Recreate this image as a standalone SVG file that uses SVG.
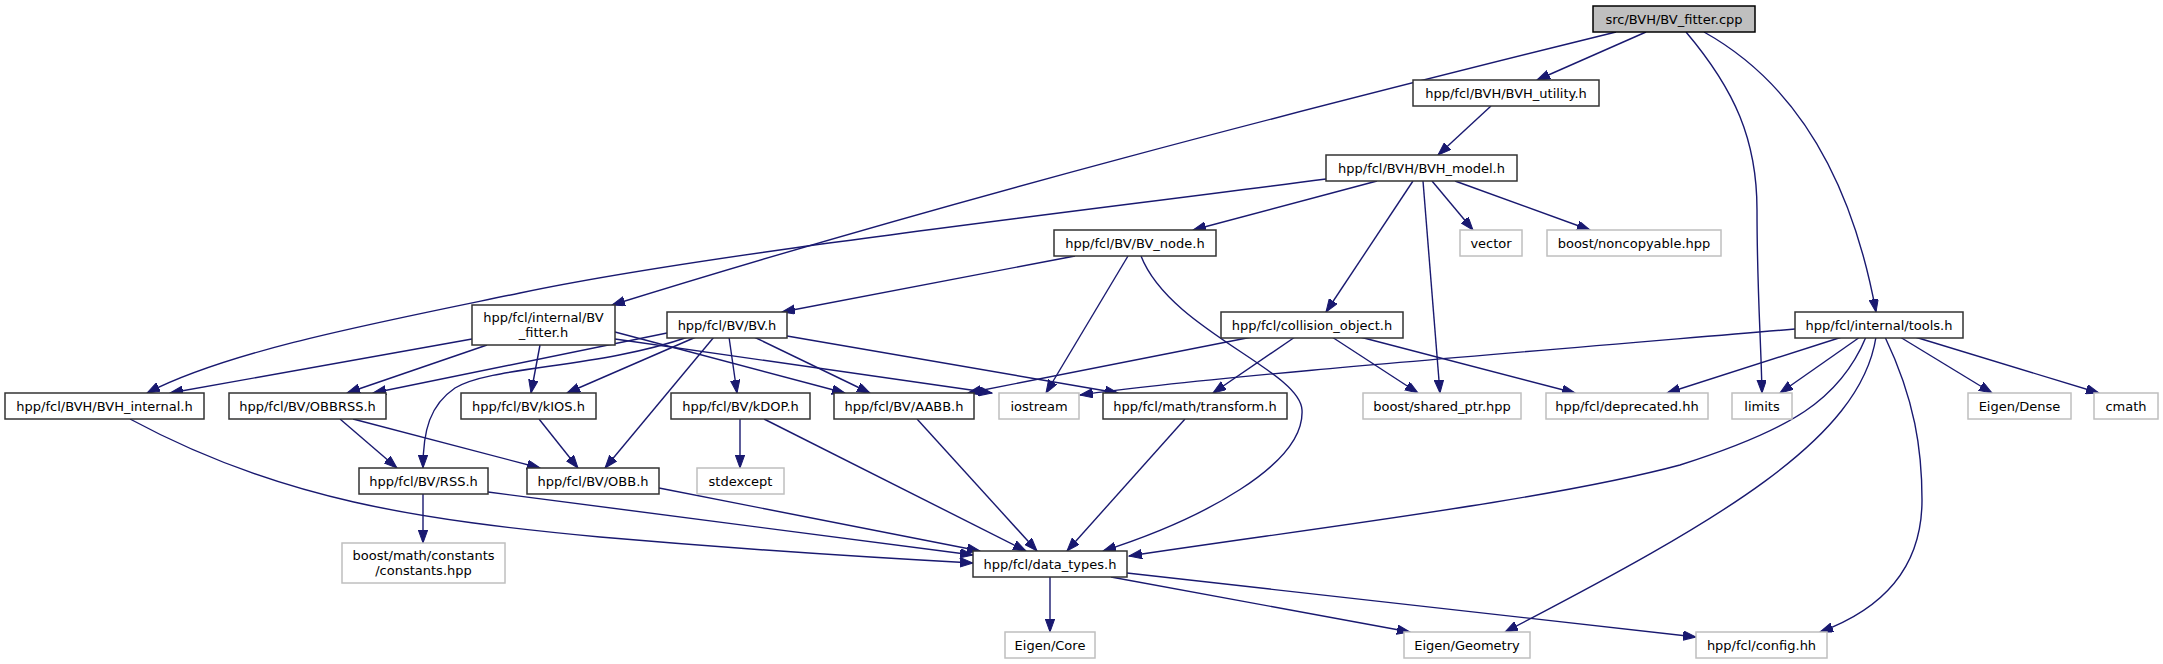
<svg xmlns="http://www.w3.org/2000/svg" width="2163" height="664" viewBox="0 0 2163 664">
<style>
.n rect{fill:#fff;stroke:#333;stroke-width:1.5}
.x rect{fill:#fff;stroke:#bfbfbf;stroke-width:1.5}
.r rect{fill:#bfbfbf;stroke:#000;stroke-width:1.5}
text{font-family:"DejaVu Sans","Liberation Sans",sans-serif;font-size:13px;text-anchor:middle;fill:#000}
#edges path{fill:none;stroke:#191970;stroke-width:1.4;marker-end:url(#arr)}
</style>
<defs>
<marker id="arr" markerUnits="userSpaceOnUse" markerWidth="14" markerHeight="10" refX="13" refY="4.7" orient="auto">
<path d="M0,0 L13,4.7 L0,9.4 z" fill="#191970" stroke="#191970" stroke-width="1"/>
</marker>
</defs>
<rect width="2163" height="664" fill="#fff"/>
<g id="edges">
<path d="M1646,32 L1537,80"/>
<path d="M1616,32 C1300,110 950,200 612,305"/>
<path d="M1686,32 C1735,90 1757,140 1757,210 C1757,290 1761,340 1762,393"/>
<path d="M1704,32 C1790,80 1850,170 1876,312"/>
<path d="M1491,106 L1438,155"/>
<path d="M1326,179 C1050,215 700,255 520,293 C380,322 230,350 147,393"/>
<path d="M1377,181 L1193,230"/>
<path d="M1413,181 L1326,312"/>
<path d="M1423,181 L1440,393"/>
<path d="M1432,181 L1473,230"/>
<path d="M1455,181 L1590,230"/>
<path d="M1075,256 L782,312"/>
<path d="M1128,256 L1046,393"/>
<path d="M1141,256 C1170,330 1300,370 1302,410 C1305,465 1200,520 1103,551"/>
<path d="M472,339 L170,393"/>
<path d="M487,345 L347,393"/>
<path d="M540,345 L531,393"/>
<path d="M615,332 L845,393"/>
<path d="M615,339 L992,393"/>
<path d="M667,333 L373,393"/>
<path d="M696,337 L567,393"/>
<path d="M688,337 C600,368 490,366 455,388 C430,405 423,430 423,468"/>
<path d="M714,337 L605,468"/>
<path d="M729,337 L737,393"/>
<path d="M754,337 L870,393"/>
<path d="M787,336 L1118,393"/>
<path d="M1252,337 L968,393"/>
<path d="M1295,337 L1213,393"/>
<path d="M1332,337 L1418,393"/>
<path d="M1360,337 L1575,393"/>
<path d="M1795,329 C1450,358 1200,378 1080,395"/>
<path d="M1842,337 L1667,393"/>
<path d="M1860,337 L1780,393"/>
<path d="M1866,337 C1840,400 1790,430 1680,465 C1550,500 1300,530 1129,556"/>
<path d="M1876,337 C1860,440 1720,520 1505,632"/>
<path d="M1885,337 C1915,400 1922,450 1922,500 C1922,570 1880,610 1820,632"/>
<path d="M1900,337 L1992,393"/>
<path d="M1915,337 L2099,393"/>
<path d="M340,419 L397,468"/>
<path d="M353,419 L540,468"/>
<path d="M539,419 L578,468"/>
<path d="M740,419 L740,468"/>
<path d="M764,419 L1026,551"/>
<path d="M917,419 L1037,551"/>
<path d="M1185,419 L1067,551"/>
<path d="M130,419 C280,500 420,520 600,537 C750,550 880,558 973,563"/>
<path d="M488,492 L973,555"/>
<path d="M659,488 L980,551"/>
<path d="M1050,577 L1050,632"/>
<path d="M1111,577 L1410,632"/>
<path d="M1127,573 L1696,637"/>
<path d="M423,494 L423,543"/>
</g>
<g id="n1" class="r"><rect x="1593" y="6" width="162" height="26"/><text x="1674" y="23.5">src/BVH/BV_fitter.cpp</text></g>
<g id="n2" class="n"><rect x="1413" y="80" width="186" height="26"/><text x="1506" y="97.5">hpp/fcl/BVH/BVH_utility.h</text></g>
<g id="n3" class="n"><rect x="1326" y="155" width="191" height="26"/><text x="1421.5" y="172.5">hpp/fcl/BVH/BVH_model.h</text></g>
<g id="n4" class="n"><rect x="1054" y="230" width="162" height="26"/><text x="1135" y="247.5">hpp/fcl/BV/BV_node.h</text></g>
<g id="n5" class="x"><rect x="1460" y="230" width="62" height="26"/><text x="1491" y="247.5">vector</text></g>
<g id="n6" class="x"><rect x="1547" y="230" width="174" height="26"/><text x="1634" y="247.5">boost/noncopyable.hpp</text></g>
<g id="n7" class="n"><rect x="472" y="305" width="143" height="40"/><text x="543.5" y="322">hpp/fcl/internal/BV</text><text x="543.5" y="337">_fitter.h</text></g>
<g id="n8" class="n"><rect x="667" y="312" width="120" height="26"/><text x="727" y="329.5">hpp/fcl/BV/BV.h</text></g>
<g id="n9" class="n"><rect x="1221" y="312" width="182" height="26"/><text x="1312" y="329.5">hpp/fcl/collision_object.h</text></g>
<g id="n10" class="n"><rect x="1795" y="312" width="168" height="26"/><text x="1879" y="329.5">hpp/fcl/internal/tools.h</text></g>
<g id="n11" class="n"><rect x="5" y="393" width="199" height="26"/><text x="104.5" y="410.5">hpp/fcl/BVH/BVH_internal.h</text></g>
<g id="n12" class="n"><rect x="229" y="393" width="157" height="26"/><text x="307.5" y="410.5">hpp/fcl/BV/OBBRSS.h</text></g>
<g id="n13" class="n"><rect x="461" y="393" width="135" height="26"/><text x="528.5" y="410.5">hpp/fcl/BV/kIOS.h</text></g>
<g id="n14" class="n"><rect x="671" y="393" width="139" height="26"/><text x="740.5" y="410.5">hpp/fcl/BV/kDOP.h</text></g>
<g id="n15" class="n"><rect x="834" y="393" width="140" height="26"/><text x="904" y="410.5">hpp/fcl/BV/AABB.h</text></g>
<g id="n16" class="x"><rect x="999" y="393" width="80" height="26"/><text x="1039" y="410.5">iostream</text></g>
<g id="n17" class="n"><rect x="1103" y="393" width="184" height="26"/><text x="1195" y="410.5">hpp/fcl/math/transform.h</text></g>
<g id="n18" class="x"><rect x="1363" y="393" width="158" height="26"/><text x="1442" y="410.5">boost/shared_ptr.hpp</text></g>
<g id="n19" class="x"><rect x="1546" y="393" width="162" height="26"/><text x="1627" y="410.5">hpp/fcl/deprecated.hh</text></g>
<g id="n20" class="x"><rect x="1732" y="393" width="60" height="26"/><text x="1762" y="410.5">limits</text></g>
<g id="n21" class="x"><rect x="1968" y="393" width="103" height="26"/><text x="2019.5" y="410.5">Eigen/Dense</text></g>
<g id="n22" class="x"><rect x="2094" y="393" width="64" height="26"/><text x="2126" y="410.5">cmath</text></g>
<g id="n23" class="n"><rect x="359" y="468" width="129" height="26"/><text x="423.5" y="485.5">hpp/fcl/BV/RSS.h</text></g>
<g id="n24" class="n"><rect x="527" y="468" width="132" height="26"/><text x="593" y="485.5">hpp/fcl/BV/OBB.h</text></g>
<g id="n25" class="x"><rect x="697" y="468" width="87" height="26"/><text x="740.5" y="485.5">stdexcept</text></g>
<g id="n26" class="x"><rect x="342" y="543" width="163" height="40"/><text x="423.5" y="560">boost/math/constants</text><text x="423.5" y="575">/constants.hpp</text></g>
<g id="n27" class="n"><rect x="973" y="551" width="154" height="26"/><text x="1050" y="568.5">hpp/fcl/data_types.h</text></g>
<g id="n28" class="x"><rect x="1005" y="632" width="90" height="26"/><text x="1050" y="649.5">Eigen/Core</text></g>
<g id="n29" class="x"><rect x="1404" y="632" width="126" height="26"/><text x="1467" y="649.5">Eigen/Geometry</text></g>
<g id="n30" class="x"><rect x="1696" y="632" width="131" height="26"/><text x="1761.5" y="649.5">hpp/fcl/config.hh</text></g>
</svg>
